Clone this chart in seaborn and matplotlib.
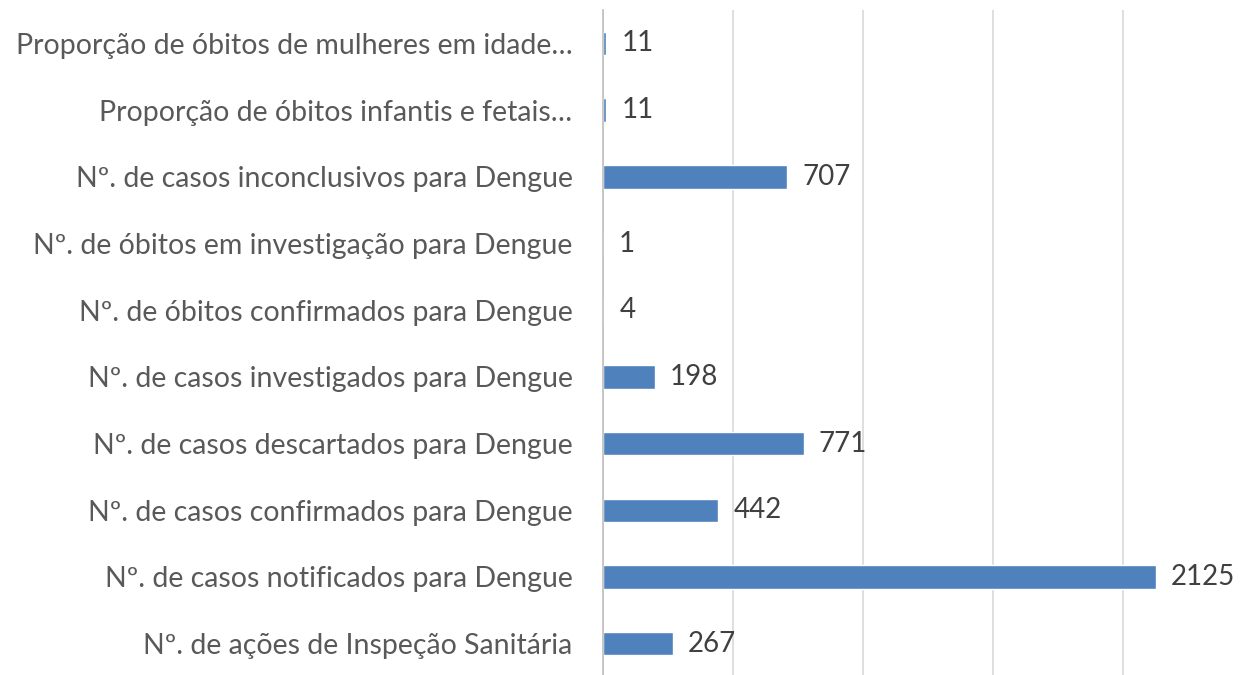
import pandas as pd
import matplotlib.pyplot as plt
import seaborn as sns

# data, top to bottom as in the chart
categories = [
    "Proporção de óbitos de mulheres em idade…",
    "Proporção de óbitos infantis e fetais…",
    "Nº. de casos inconclusivos para Dengue",
    "Nº. de óbitos em investigação para Dengue",
    "Nº. de óbitos confirmados para Dengue",
    "Nº. de casos investigados para Dengue",
    "Nº. de casos descartados para Dengue",
    "Nº. de casos confirmados para Dengue",
    "Nº. de casos notificados para Dengue",
    "Nº. de ações de Inspeção Sanitária",
]
values = [11, 11, 707, 1, 4, 198, 771, 442, 2125, 267]

df = pd.DataFrame({"indicador": categories, "valor": values})

sns.set_theme(style="white")
plt.rcParams['font.family'] = ['Lato', 'DejaVu Sans']

fig = plt.figure(figsize=(12.41, 6.75), dpi=100)
ax = fig.add_axes([0.486, -0.003, 0.524, 0.988])

sns.barplot(data=df, x="valor", y="indicador", orient="h", color="#4F81BD",
            width=0.35, saturation=1, ax=ax)

ax.set_xlim(0, 2500)
ax.set_xticks([0, 500, 1000, 1500, 2000, 2500])
ax.xaxis.grid(True, color="#D9D9D9", linewidth=1.2)
ax.set_axisbelow(True)
ax.tick_params(axis="x", length=0, labelbottom=False)
ax.tick_params(axis="y", length=0, pad=22, labelsize=20.5, labelcolor="#595959")
ax.set_xlabel("")
ax.set_ylabel("")

for s in ["top", "right", "bottom"]:
    ax.spines[s].set_visible(False)
ax.spines["left"].set_color("#BFBFBF")
ax.spines["left"].set_linewidth(1.2)

for c in ax.containers:
    ax.bar_label(c, fmt="%d", padding=11, fontsize=20, color="#404040")

fig.savefig("out.png", dpi=100)
